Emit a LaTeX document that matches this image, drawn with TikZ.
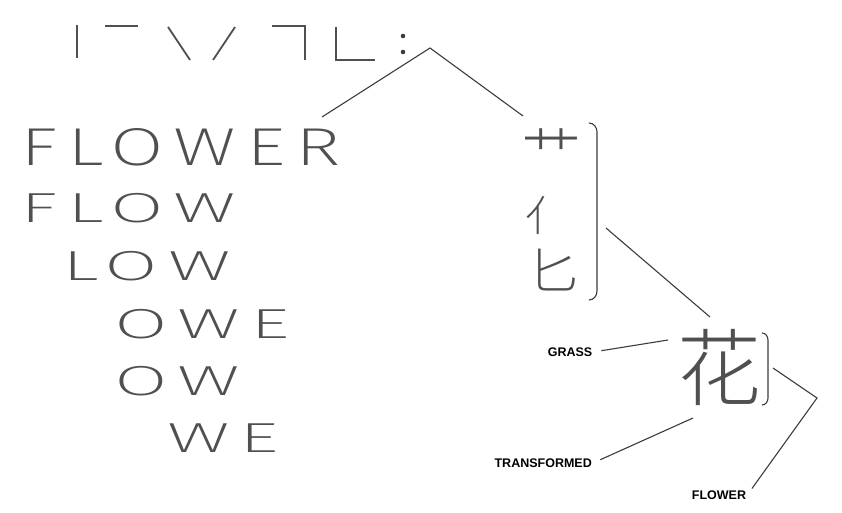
\documentclass[tikz,border=0pt]{standalone}
\usepackage{fontspec}
\setsansfont{Liberation Sans}
\IfFontExistsTF{Fira Sans ExtraLight}
  {\newfontfamily\strokefont{Fira Sans ExtraLight}[FakeStretch=1.85,LetterSpace=24]}
  {\IfFontExistsTF{Fira Sans Thin}
    {\newfontfamily\strokefont{Fira Sans Thin}[FakeStretch=1.85,LetterSpace=24]}
    {\newfontfamily\strokefont{Fira Sans}[FakeStretch=1.85,LetterSpace=24]}}
\IfFontExistsTF{Noto Sans CJK SC Light}
  {\newfontfamily\cjk{Noto Sans CJK SC Light}}
  {\newfontfamily\cjk{Noto Sans CJK SC}}
\usepackage{tikz}
\usetikzlibrary{positioning,calc}
\definecolor{inkgrey}{RGB}{60,60,60}
\definecolor{strokegrey}{RGB}{80,80,80}

\begin{document}
\begin{tikzpicture}[x=1pt,y=-1pt,
    wire/.style={draw=inkgrey,line width=1.1pt},
    prim/.style={draw=strokegrey,line width=1.8pt},
    word/.style={inner sep=0pt,anchor=base west,text=strokegrey,
                 font=\strokefont\fontsize{42}{42}\selectfont},
    radical/.style={inner sep=0pt,text=strokegrey},
    gloss/.style={inner sep=1pt,text=black,
                  font=\sffamily\bfseries\fontsize{12.5}{12.5}\selectfont}]
  \useasboundingbox[fill=white] (0,0) rectangle (842,513);
  % strokes
  \draw[prim] (77,25) -- (77,58);
  \draw[prim] (105,26) -- (138,26);
  \draw[prim] (168,27) -- (190,60);
  \draw[prim] (235,27) -- (213,60);
  \draw[prim] (272,26) -- (305,26) -- (305,60);
  \draw[prim] (336,27) -- (336,60) -- (375,60);
  \fill[inkgrey] (403,36) circle (2.3pt) (403,52) circle (2.3pt);
  \coordinate (apex) at (430,48);
  % words
  \node[word,yscale=1.27] (w1) at (20,165) {FLOWER};
  \node[word] (w2) at (20,222) {FLOW};
  \node[word] (w3) at (62,280) {LOW};
  \node[word] (w4) at (114,338) {OWE};
  \node[word] (w5) at (114,395) {OW};
  \node[word] (w6) at (167,452) {WE};
  % components
  \node[radical,font=\cjk\fontsize{60}{60}\selectfont] (grass) at (551,152) {⺾};
  \node[radical,font=\cjk\fontsize{42}{42}\selectfont] (person) at (546,215) {亻};
  \node[radical,font=\cjk\fontsize{50}{50}\selectfont] (spoon) at (553,270) {匕};
  \node[radical,font=\cjk\fontsize{84}{84}\selectfont] (hua) at (719,367) {花};
  \draw[wire] (589,123) to[out=0,in=90] (597,132) -- (597,291) to[out=-90,in=0] (589,300);
  \draw[wire] (762,333) to[out=0,in=90] (768,340) -- (768,398) to[out=-90,in=0] (762,405);
  \coordinate (b1) at (606,228);
  \coordinate (b2) at (773,368);
  \coordinate (corner) at (817,398);
  \coordinate (flowerTip) at (322,117);
  \coordinate (grassTip) at (523,116);
  \coordinate (huaTop) at (710,317);
  \coordinate (huaGrass) at (668,340);
  \coordinate (huaFoot) at (693,418);
  % glosses
  \node[gloss] (lgrass) at (570,352) {GRASS};
  \node[gloss,anchor=east] (ltrans) at (593,463) {TRANSFORMED};
  \node[gloss] (lflower) at (719,495) {FLOWER};
  % connectors
  \draw[wire] (flowerTip) -- (apex) -- (grassTip);
  \draw[wire] (b1) -- (huaTop);
  \draw[wire,shorten <=8pt] (lgrass.east) -- (huaGrass);
  \draw[wire,shorten <=8pt] (ltrans.east) -- (huaFoot);
  \draw[wire,shorten >=8pt] (b2) -- (corner) -- (lflower.east);
\end{tikzpicture}
\end{document}
